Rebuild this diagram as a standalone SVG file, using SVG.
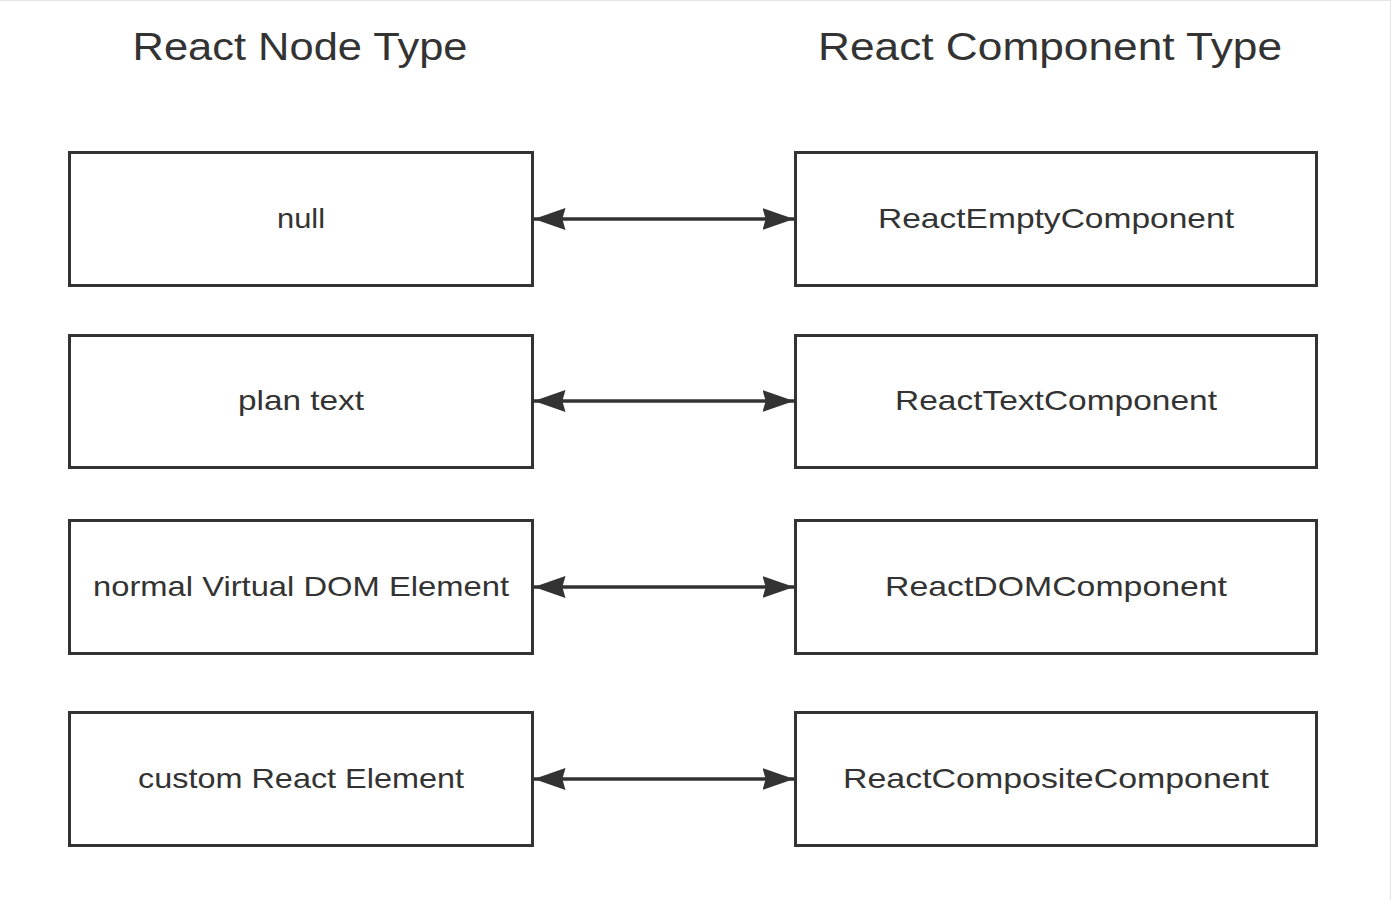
<svg xmlns="http://www.w3.org/2000/svg" width="1392" height="900" viewBox="0 0 1392 900">
<style>
.box{fill:#fff;stroke:#333;stroke-width:3}
.lbl{font-family:"Liberation Sans",Arial,sans-serif;font-size:28px;fill:#333;text-anchor:middle}
.title{font-family:"Liberation Sans",Arial,sans-serif;font-size:38px;fill:#333;text-anchor:middle}
.conn{stroke:#333;stroke-width:3.5;fill:none;marker-start:url(#ah);marker-end:url(#ah)}
</style>
<defs>
<marker id="ah" viewBox="0 0 10 7" refX="10" refY="3.5" markerWidth="9" markerHeight="6.3" markerUnits="strokeWidth" orient="auto-start-reverse">
<path d="M0,0 L10,3.5 L0,7 L1,3.5 z" fill="#333"/>
</marker>
</defs>
<rect x="0" y="0" width="1392" height="900" fill="#fff"/>
<path d="M0,0.5 H1390.5 V900" fill="none" stroke="#e4e4e4" stroke-width="1"/>
<text class="title" x="300" y="60" textLength="335" lengthAdjust="spacingAndGlyphs">React Node Type</text>
<text class="title" x="1050" y="60" textLength="464" lengthAdjust="spacingAndGlyphs">React Component Type</text>
<g id="connectors">
<line class="conn" x1="534" y1="219" x2="794" y2="219"/>
<line class="conn" x1="534" y1="401" x2="794" y2="401"/>
<line class="conn" x1="534" y1="587" x2="794" y2="587"/>
<line class="conn" x1="534" y1="779" x2="794" y2="779"/>
</g>
<g id="n-null"><rect class="box" x="69.5" y="152.5" width="463" height="133"/><text class="lbl" x="301" y="228" textLength="48" lengthAdjust="spacingAndGlyphs">null</text></g>
<g id="n-text"><rect class="box" x="69.5" y="335.5" width="463" height="132"/><text class="lbl" x="301" y="410" textLength="126" lengthAdjust="spacingAndGlyphs">plan text</text></g>
<g id="n-dom"><rect class="box" x="69.5" y="520.5" width="463" height="133"/><text class="lbl" x="301" y="596" textLength="416" lengthAdjust="spacingAndGlyphs">normal Virtual DOM  Element</text></g>
<g id="n-custom"><rect class="box" x="69.5" y="712.5" width="463" height="133"/><text class="lbl" x="301" y="788" textLength="326" lengthAdjust="spacingAndGlyphs">custom React Element</text></g>
<g id="c-empty"><rect class="box" x="795.5" y="152.5" width="521" height="133"/><text class="lbl" x="1056" y="228" textLength="356" lengthAdjust="spacingAndGlyphs">ReactEmptyComponent</text></g>
<g id="c-text"><rect class="box" x="795.5" y="335.5" width="521" height="132"/><text class="lbl" x="1056" y="410" textLength="322" lengthAdjust="spacingAndGlyphs">ReactTextComponent</text></g>
<g id="c-dom"><rect class="box" x="795.5" y="520.5" width="521" height="133"/><text class="lbl" x="1056" y="596" textLength="342" lengthAdjust="spacingAndGlyphs">ReactDOMComponent</text></g>
<g id="c-composite"><rect class="box" x="795.5" y="712.5" width="521" height="133"/><text class="lbl" x="1056" y="788" textLength="426" lengthAdjust="spacingAndGlyphs">ReactCompositeComponent</text></g>
</svg>
